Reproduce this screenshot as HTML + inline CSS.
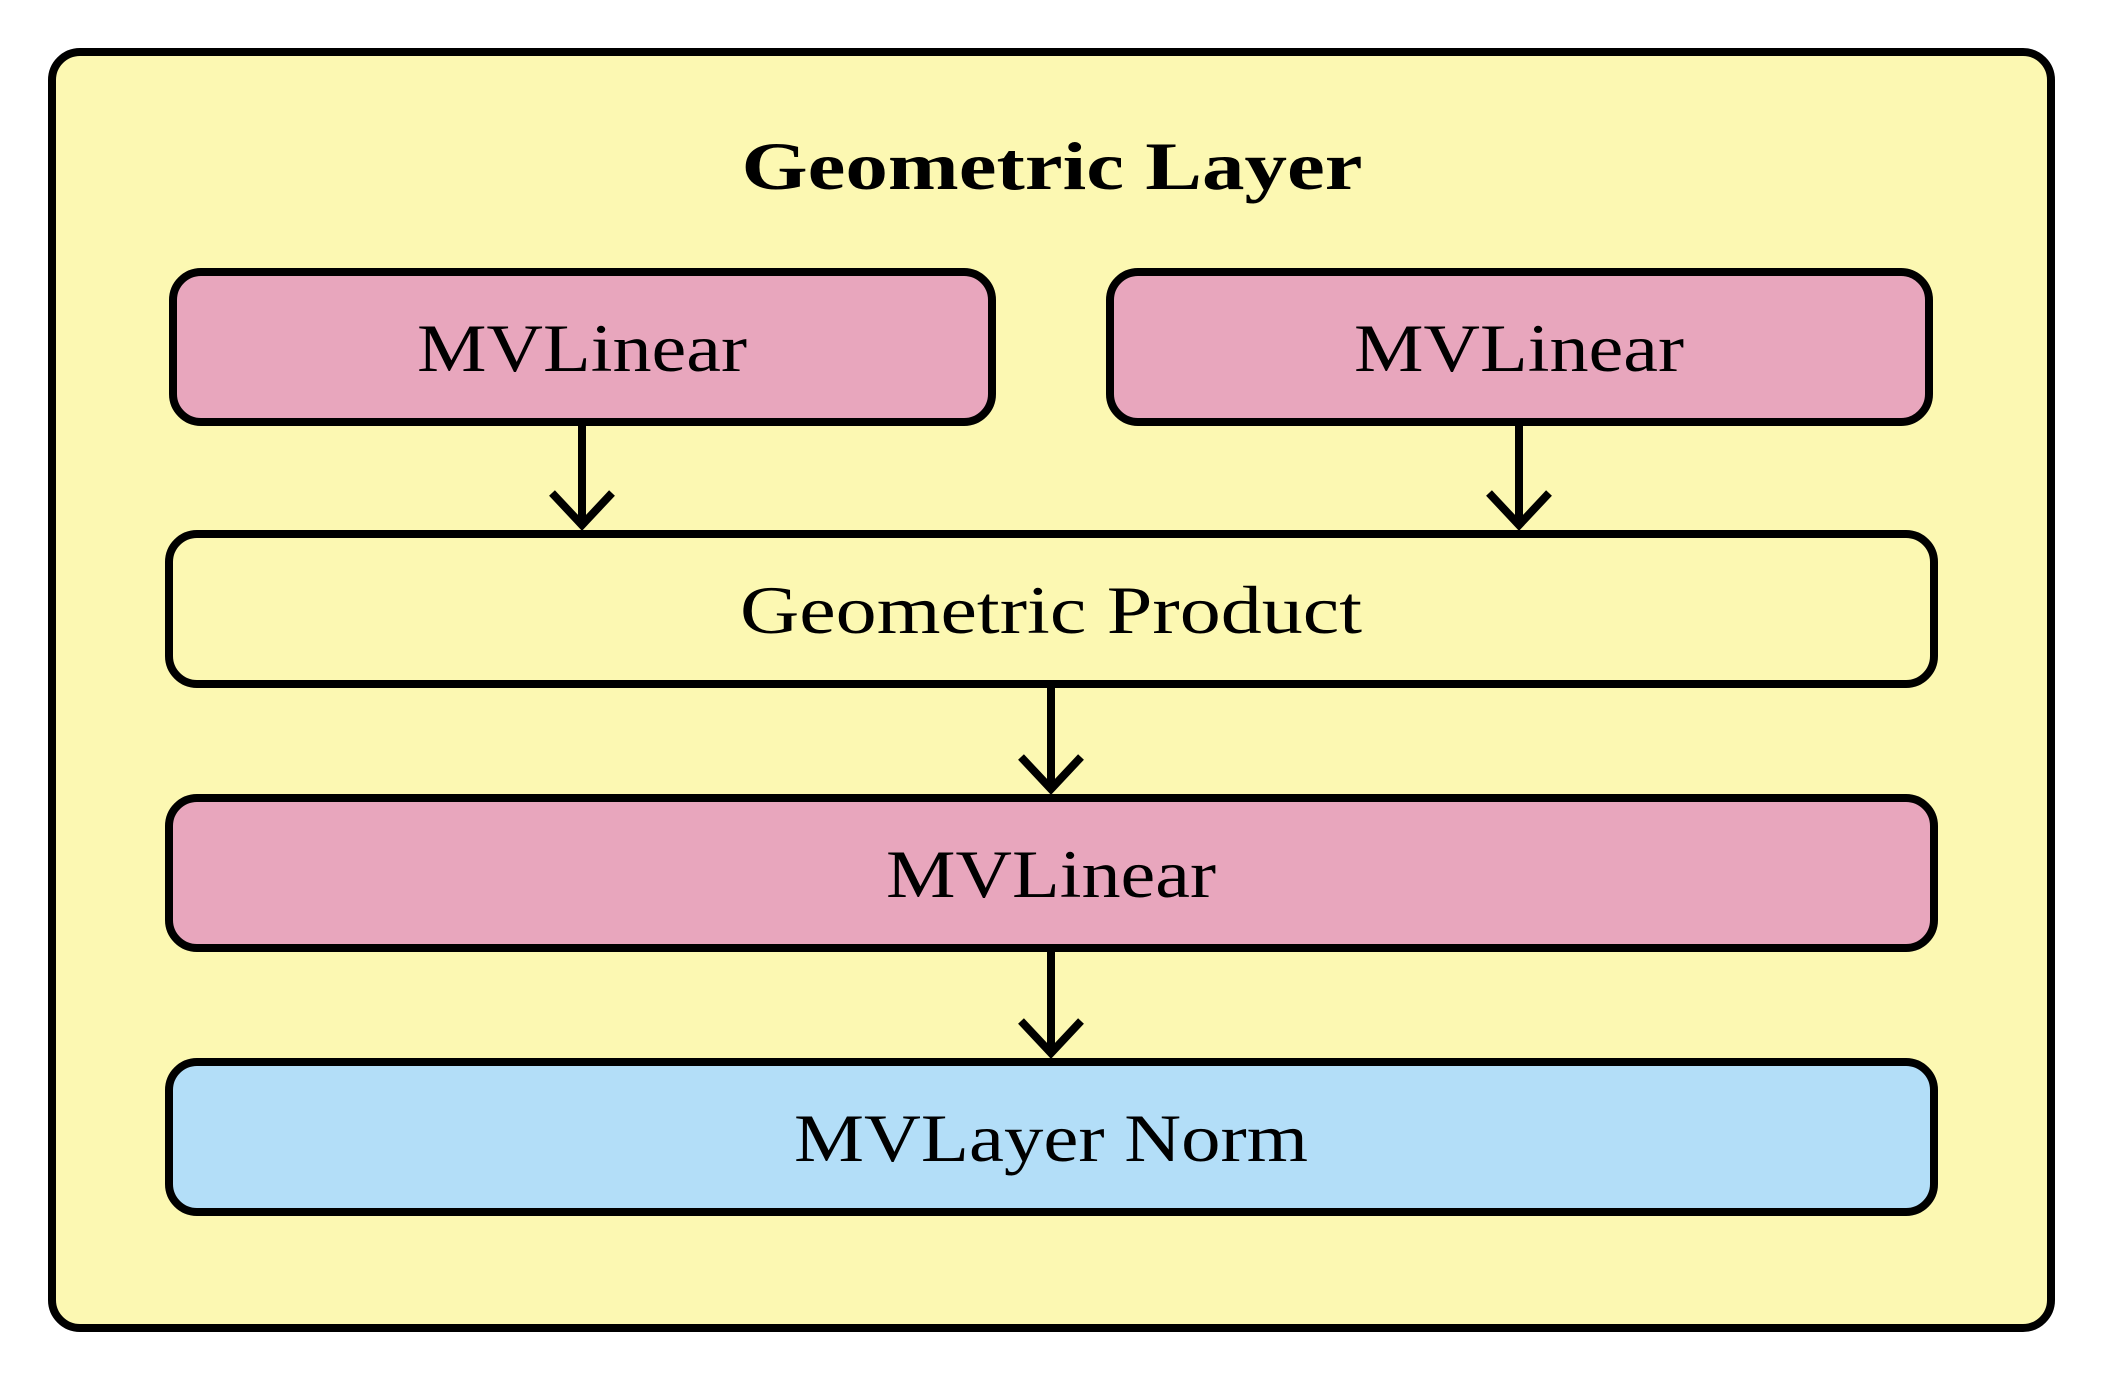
<!DOCTYPE html>
<html><head><meta charset="utf-8"><style>
html,body{margin:0;padding:0;background:#fff;}
svg{display:block;}
text{font-family:"Liberation Serif","DejaVu Serif",serif;fill:#000;}
</style></head><body>
<svg width="2103" height="1380" viewBox="0 0 2103 1380" xmlns="http://www.w3.org/2000/svg">
<rect x="0" y="0" width="2103" height="1380" fill="#fff"/>
<rect x="52" y="52" width="1999" height="1276" rx="28" fill="#fcf8b2" stroke="#000" stroke-width="8"/>
<text x="1052" y="189" font-size="68" font-weight="bold" text-anchor="middle" textLength="621" lengthAdjust="spacingAndGlyphs">Geometric Layer</text>

<rect x="173" y="272" width="819" height="150" rx="28" fill="#e8a6bd" stroke="#000" stroke-width="8"/>
<text x="582" y="371" font-size="68" text-anchor="middle" textLength="330" lengthAdjust="spacingAndGlyphs">MVLinear</text>

<rect x="1110" y="272" width="819" height="150" rx="28" fill="#e8a6bd" stroke="#000" stroke-width="8"/>
<text x="1519" y="371" font-size="68" text-anchor="middle" textLength="330" lengthAdjust="spacingAndGlyphs">MVLinear</text>

<rect x="169" y="534" width="1765" height="150" rx="28" fill="#fcf8b2" stroke="#000" stroke-width="8"/>
<text x="1051" y="633" font-size="68" text-anchor="middle" textLength="622" lengthAdjust="spacingAndGlyphs">Geometric Product</text>

<rect x="169" y="798" width="1765" height="150" rx="28" fill="#e8a6bd" stroke="#000" stroke-width="8"/>
<text x="1051" y="897" font-size="68" text-anchor="middle" textLength="330" lengthAdjust="spacingAndGlyphs">MVLinear</text>

<rect x="169" y="1062" width="1765" height="150" rx="28" fill="#b3def8" stroke="#000" stroke-width="8"/>
<text x="1051" y="1161" font-size="68" text-anchor="middle" textLength="514" lengthAdjust="spacingAndGlyphs">MVLayer Norm</text>

<g stroke="#000" stroke-width="8" fill="none">
<line x1="582" y1="422" x2="582" y2="525"/>
<polyline points="552,493 582,525 612,493"/>
<line x1="1519" y1="422" x2="1519" y2="525"/>
<polyline points="1489,493 1519,525 1549,493"/>
<line x1="1051" y1="684" x2="1051" y2="789"/>
<polyline points="1021,757 1051,789 1081,757"/>
<line x1="1051" y1="948" x2="1051" y2="1053"/>
<polyline points="1021,1021 1051,1053 1081,1021"/>
</g>
</svg>
</body></html>
